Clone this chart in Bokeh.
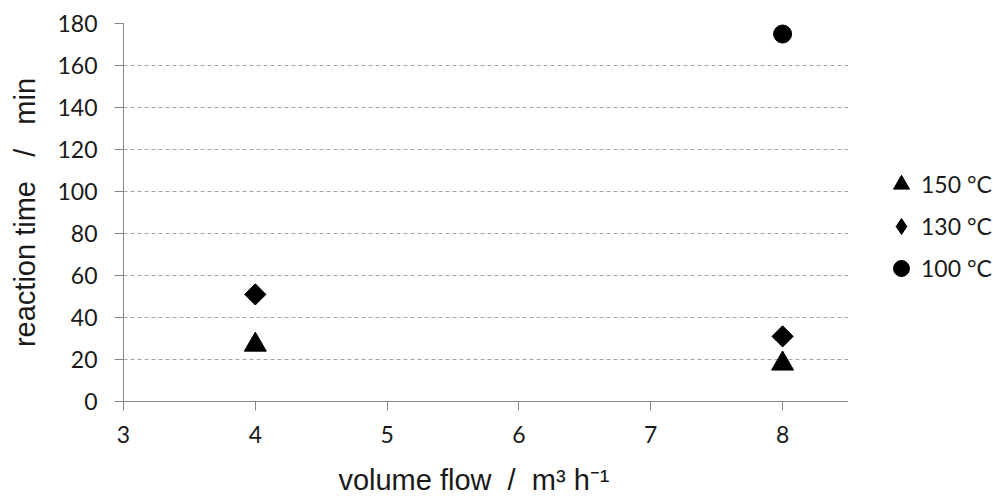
from bokeh.plotting import figure
from bokeh.models import Range1d, Legend, LegendItem, FixedTicker
from bokeh.layouts import row
from bokeh.embed import file_html
from bokeh.resources import INLINE
import math

# data
flow_150 = [4, 8]
time_150 = [27, 18]
flow_130 = [4, 8]
time_130 = [51, 31]
flow_100 = [8]
time_100 = [175]
series_labels = ["150 °C", "130 °C", "100 °C"]
x_ticks = [3, 4, 5, 6, 7, 8]
y_ticks = [0, 20, 40, 60, 80, 100, 120, 140, 160, 180]
NB = "\u00a0"
x_title = "volume flow" + NB * 2 + "/" + NB * 2 + "m³ h⁻¹" + NB * 3
y_title = "reaction time" + NB * 3 + "/" + NB * 3 + "min"

FONT = "Lato"
TFONT = "Liberation Sans"
TXT = "#1a1a1a"
AX = "#868686"

p = figure(width=848, height=498, output_backend="svg", toolbar_location=None,
           x_range=Range1d(3, 8.5), y_range=Range1d(0, 180),
           min_border_left=123, min_border_right=0, min_border_top=23,
           min_border_bottom=97)
p.outline_line_color = None
p.background_fill_color = "white"
p.border_fill_color = "white"

p.xgrid.visible = False
p.ygrid.grid_line_color = "#a6a6a6"
p.ygrid.grid_line_dash = "4 3"
p.ygrid.grid_line_width = 1

for ax in (p.xaxis[0], p.yaxis[0]):
    ax.axis_line_color = AX
    ax.major_tick_line_color = AX
    ax.major_tick_in = 0
    ax.major_tick_out = 9
    ax.minor_tick_line_color = None
    ax.major_label_text_font = FONT
    ax.major_label_text_font_size = "23px"
    ax.major_label_text_color = TXT
    ax.axis_label_text_font = TFONT
    ax.axis_label_text_font_size = "29px"
    ax.axis_label_text_font_style = "normal"
    ax.axis_label_text_color = TXT

p.xaxis.ticker = FixedTicker(ticks=x_ticks)
p.yaxis.ticker = FixedTicker(ticks=y_ticks)
p.xaxis.major_label_standoff = 15
p.yaxis.major_label_standoff = 17
p.xaxis.axis_label = x_title
p.yaxis.axis_label = y_title
p.xaxis.axis_label_standoff = 18
p.xaxis.axis_label_text_line_height = 0.8
p.yaxis.axis_label_standoff = 13

p.scatter(flow_150, time_150, marker="triangle", size=22, color="black")
p.scatter(flow_130, time_130, marker="square", size=15, angle=math.pi / 4,
          color="black")
p.scatter(flow_100, time_100, marker="circle", size=18, color="black")

# separate legend panel to the right of the plot area
lg = figure(width=145, height=498, output_backend="svg", toolbar_location=None,
            x_range=Range1d(100, 101), y_range=Range1d(1000, 1001),
            min_border=0, x_axis_type=None, y_axis_type=None)
lg.outline_line_color = None
lg.xgrid.visible = False
lg.ygrid.visible = False
k150 = lg.scatter(flow_150, time_150, marker="triangle", size=22, color="black")
k130 = lg.scatter(flow_130, time_130, marker="diamond", size=22, color="black")
k100 = lg.scatter(flow_100, time_100, marker="circle", size=18, color="black")

legend = Legend(items=[LegendItem(label=series_labels[0], renderers=[k150]),
                       LegendItem(label=series_labels[1], renderers=[k130]),
                       LegendItem(label=series_labels[2], renderers=[k100])],
                location=(33, 113), orientation="vertical")
legend.border_line_color = None
legend.background_fill_alpha = 0
legend.padding = 0
legend.margin = 0
legend.glyph_width = 40
legend.glyph_height = 40
legend.label_height = 40
legend.spacing = 2
legend.label_standoff = 0
legend.label_text_font = FONT
legend.label_text_font_size = "23px"
legend.label_text_color = TXT
lg.add_layout(legend, "center")

open("out.html", "w").write(file_html(row(p, lg), INLINE))
